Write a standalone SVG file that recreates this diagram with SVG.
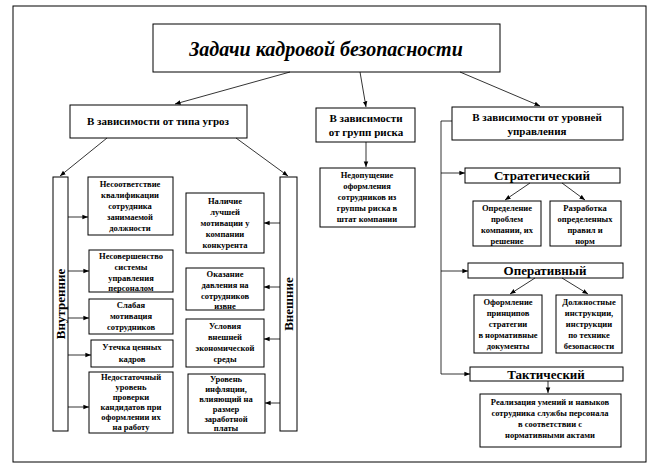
<svg xmlns="http://www.w3.org/2000/svg" width="654" height="474" viewBox="0 0 654 474">
<defs><marker id="a" viewBox="0 0 10 10" refX="10" refY="5" markerWidth="7" markerHeight="7" orient="auto"><path d="M0,1 L10,5 L0,9 z" fill="#000"/></marker></defs>
<style>
rect{fill:#fff;stroke:#000;stroke-width:1}
text{font-family:'Liberation Serif','DejaVu Serif','Times New Roman',serif;font-weight:bold;text-anchor:middle;fill:#000}
.s{font-size:8.5px}.m{font-size:11px}.l{font-size:13px}
.c line,.c path{stroke:#000;stroke-width:0.8;fill:none}
.ar{marker-end:url(#a)}
</style>
<rect x="0" y="0" width="654" height="474" style="stroke:none"/>
<rect x="13" y="6" width="633" height="456"/>
<g id="title"><rect x="153" y="24" width="347" height="48"/><text x="326" y="56" style="font-size:20px;font-style:italic">Задачи кадровой безопасности</text></g>
<g id="threat"><rect x="70" y="105" width="177" height="33"/><text class="m" x="158" y="125">В зависимости от типа угроз</text></g>
<g id="risk"><rect x="316" y="108" width="99" height="34"/><text class="m" x="366" y="122">В зависимости</text><text class="m" x="366" y="136">от групп риска</text></g>
<g id="level"><rect x="452" y="107" width="171" height="33"/><text class="m" x="537" y="121">В зависимости от уровней</text><text class="m" x="537" y="135">управления</text></g>
<g id="internal"><rect x="53" y="177" width="15" height="254"/><text class="l" transform="translate(65,304) rotate(-90)">Внутренние</text></g>
<g id="external"><rect x="280" y="177" width="17" height="254"/><text class="l" transform="translate(293,304) rotate(-90)">Внешние</text></g>
<g id="i1"><rect x="88" y="177" width="85" height="58"/><text class="s" x="130" y="187">Несоответствие</text><text class="s" x="130" y="198">квалификации</text><text class="s" x="130" y="209">сотрудника</text><text class="s" x="130" y="220">занимаемой</text><text class="s" x="130" y="231">должности</text></g>
<g id="i2"><rect x="89" y="250" width="84" height="42"/><text class="s" x="131" y="259">Несовершенство</text><text class="s" x="131" y="270">системы</text><text class="s" x="131" y="281">управления</text><text class="s" x="131" y="291">персоналом</text></g>
<g id="i3"><rect x="89" y="299" width="84" height="35"/><text class="s" x="131" y="308">Слабая</text><text class="s" x="131" y="319">мотивация</text><text class="s" x="131" y="330">сотрудников</text></g>
<g id="i4"><rect x="91" y="340" width="82" height="27"/><text class="s" x="132" y="350">Утечка ценных</text><text class="s" x="132" y="362">кадров</text></g>
<g id="i5"><rect x="89" y="372" width="84" height="61"/><text class="s" x="131" y="380">Недостаточный</text><text class="s" x="131" y="390">уровень</text><text class="s" x="131" y="400">проверки</text><text class="s" x="131" y="410">кандидатов при</text><text class="s" x="131" y="420">оформлении их</text><text class="s" x="131" y="430">на работу</text></g>
<g id="e1"><rect x="186" y="193" width="78" height="60"/><text class="s" x="225" y="204">Наличие</text><text class="s" x="225" y="215">лучшей</text><text class="s" x="225" y="226">мотивации у</text><text class="s" x="225" y="237">компании</text><text class="s" x="225" y="248">конкурента</text></g>
<g id="e2"><rect x="186" y="268" width="78" height="42"/><text class="s" x="225" y="277">Оказание</text><text class="s" x="225" y="288">давления на</text><text class="s" x="225" y="299">сотрудников</text><text class="s" x="225" y="309">извне</text></g>
<g id="e3"><rect x="186" y="319" width="78" height="48"/><text class="s" x="225" y="329">Условия</text><text class="s" x="225" y="340">внешней</text><text class="s" x="225" y="351">экономической</text><text class="s" x="225" y="362">среды</text></g>
<g id="e4"><rect x="188" y="374" width="77" height="59"/><text class="s" x="226" y="382">Уровень</text><text class="s" x="226" y="392">инфляции,</text><text class="s" x="226" y="402">влияющий на</text><text class="s" x="226" y="412">размер</text><text class="s" x="226" y="422">заработной</text><text class="s" x="226" y="431">платы</text></g>
<g id="r1"><rect x="320" y="168" width="95" height="59"/><text class="s" x="367" y="178">Недопущение</text><text class="s" x="367" y="189">оформления</text><text class="s" x="367" y="200">сотрудников из</text><text class="s" x="367" y="211">группы риска в</text><text class="s" x="367" y="222">штат компании</text></g>
<g id="strat"><rect x="465" y="168" width="155" height="15"/><text class="l" x="542" y="180">Стратегический</text></g>
<g id="s1"><rect x="473" y="201" width="68" height="45"/><text class="s" x="507" y="211">Определение</text><text class="s" x="507" y="222">проблем</text><text class="s" x="507" y="233">компании, их</text><text class="s" x="507" y="244">решение</text></g>
<g id="s2"><rect x="550" y="201" width="71" height="45"/><text class="s" x="585" y="211">Разработка</text><text class="s" x="585" y="222">определенных</text><text class="s" x="585" y="233">правил и</text><text class="s" x="585" y="244">норм</text></g>
<g id="oper"><rect x="468" y="263" width="155" height="15"/><text class="l" x="545" y="275">Оперативный</text></g>
<g id="o1"><rect x="474" y="295" width="68" height="58"/><text class="s" x="508" y="305">Оформление</text><text class="s" x="508" y="316">принципов</text><text class="s" x="508" y="327">стратегии</text><text class="s" x="508" y="338">в нормативные</text><text class="s" x="508" y="349">документы</text></g>
<g id="o2"><rect x="556" y="295" width="66" height="58"/><text class="s" x="589" y="305">Должностные</text><text class="s" x="589" y="316">инструкции,</text><text class="s" x="589" y="327">инструкции</text><text class="s" x="589" y="338">по технике</text><text class="s" x="589" y="349">безопасности</text></g>
<g id="tact"><rect x="470" y="367" width="153" height="14"/><text class="l" x="546" y="379">Тактический</text></g>
<g id="t1"><rect x="480" y="394" width="141" height="53"/><text class="s" x="550" y="405">Реализация умений и навыков</text><text class="s" x="550" y="416">сотрудника службы персонала</text><text class="s" x="550" y="427">в соответствии с</text><text class="s" x="550" y="438">нормативными актами</text></g>
<g class="c" id="connectors">
<line class="ar" x1="290" y1="72" x2="175" y2="104"/>
<line class="ar" x1="360" y1="72" x2="366" y2="107"/>
<line class="ar" x1="460" y1="72" x2="540" y2="106"/>
<line class="ar" x1="107" y1="138" x2="60" y2="176"/>
<line class="ar" x1="236" y1="138" x2="288" y2="176"/>
<line class="ar" x1="68" y1="217" x2="88" y2="217"/>
<line class="ar" x1="68" y1="271" x2="89" y2="271"/>
<line class="ar" x1="68" y1="318" x2="89" y2="318"/>
<line class="ar" x1="68" y1="355" x2="91" y2="355"/>
<line class="ar" x1="68" y1="407" x2="89" y2="407"/>
<line class="ar" x1="280" y1="223" x2="264" y2="223"/>
<line class="ar" x1="280" y1="287" x2="264" y2="287"/>
<line class="ar" x1="280" y1="339" x2="264" y2="339"/>
<line class="ar" x1="280" y1="403" x2="265" y2="403"/>
<line class="ar" x1="366" y1="142" x2="366" y2="167"/>
<path d="M452,121 H441 V374"/>
<line class="ar" x1="441" y1="173" x2="465" y2="173"/>
<line class="ar" x1="441" y1="271" x2="468" y2="271"/>
<line class="ar" x1="441" y1="374" x2="470" y2="374"/>
<line class="ar" x1="530" y1="183" x2="505" y2="200"/>
<line class="ar" x1="562" y1="183" x2="585" y2="200"/>
<line class="ar" x1="535" y1="278" x2="510" y2="294"/>
<line class="ar" x1="562" y1="278" x2="588" y2="294"/>
<line class="ar" x1="548" y1="381" x2="548" y2="393"/>
</g>
</svg>
